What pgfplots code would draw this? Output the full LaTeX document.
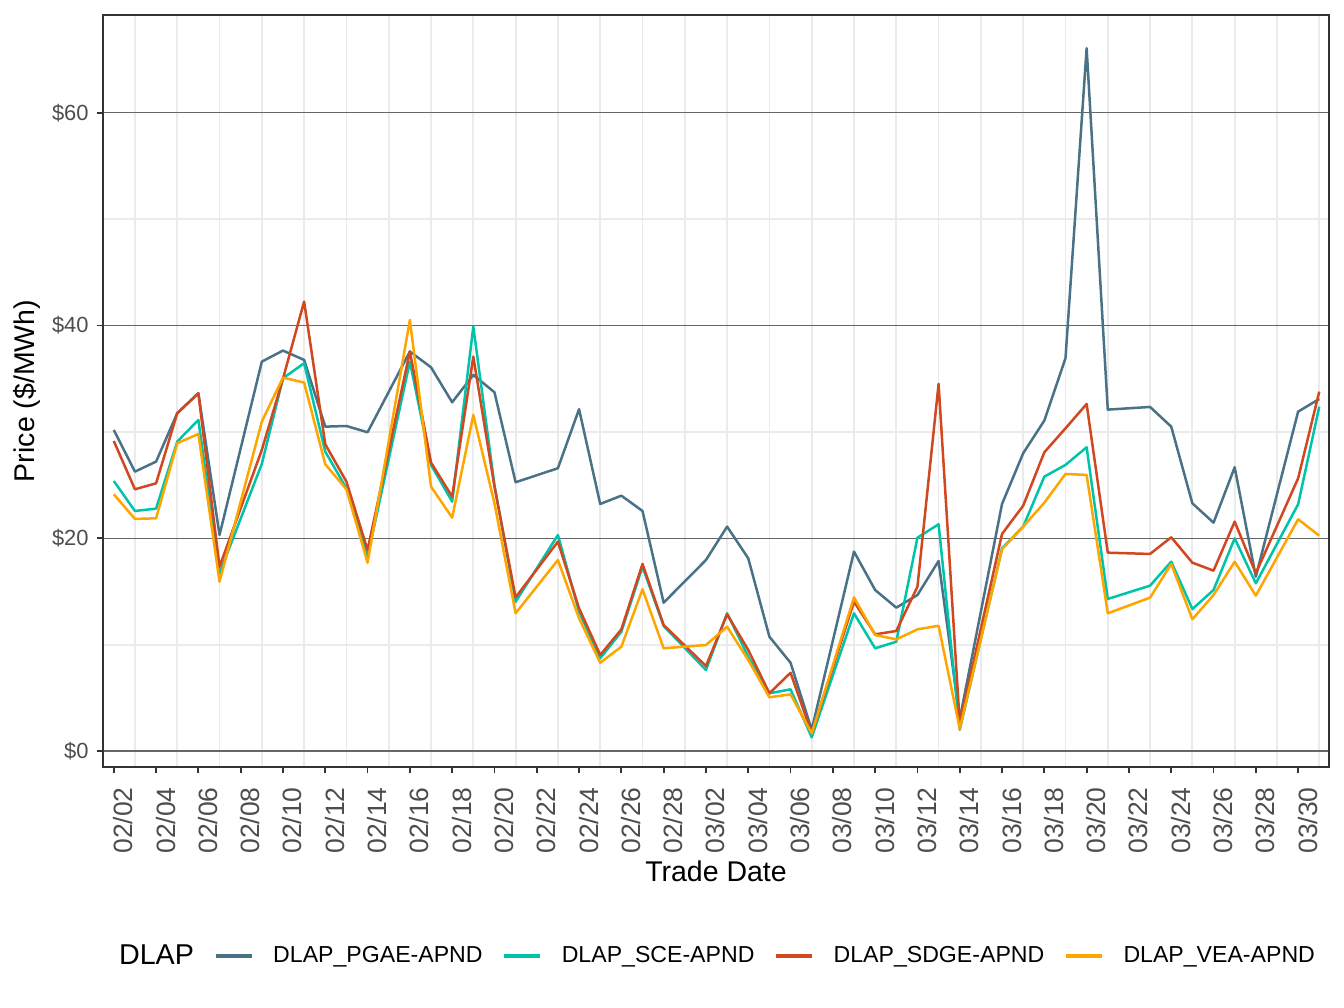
\documentclass[border=0pt]{standalone}
\usepackage{pgfplots}
\usepackage{pgfplotstable}
\pgfplotsset{compat=1.18}
\usepackage{fontspec}
\setmainfont{Liberation Sans}
\definecolor{pgae}{HTML}{4A7287}
\definecolor{sce}{HTML}{00C4AA}
\definecolor{sdge}{HTML}{D1471F}
\definecolor{vea}{HTML}{FFA500}
\definecolor{ticktxt}{HTML}{4D4D4D}
\definecolor{minorg}{HTML}{EBEBEB}
\pgfplotstableread{
day pgae sce sdge vea
0 30.19 25.39 29.15 24.14
1 26.27 22.57 24.61 21.82
2 27.21 22.79 25.17 21.88
3 31.76 29.09 31.76 28.94
4 33.64 31.13 33.64 29.81
5 20.31 16.71 17.33 15.92
7 36.61 27.00 28.31 30.97
8 37.65 35.05 35.00 35.11
9 36.77 36.46 42.26 34.64
10 30.50 28.15 28.84 26.96
11 30.56 24.70 25.33 24.61
12 29.97 18.27 18.90 17.71
14 37.56 36.61 37.56 40.53
15 36.08 26.90 27.12 24.86
16 32.79 23.45 23.92 21.94
17 35.36 39.91 37.08 31.60
18 33.73 25.00 24.86 23.30
19 25.27 14.04 14.45 12.95
21 26.59 20.31 19.69 17.96
22 32.14 13.10 13.42 12.48
23 23.23 8.72 9.03 8.30
24 24.01 11.22 11.44 9.81
25 22.57 17.33 17.59 15.21
26 13.95 11.76 11.85 9.66
28 17.96 7.62 7.99 9.97
29 21.10 12.95 12.86 11.69
30 18.12 8.87 9.50 8.56
31 10.75 5.43 5.43 5.05
32 8.30 5.80 7.36 5.33
33 2.00 1.29 1.66 1.66
35 18.75 12.95 14.04 14.45
36 15.14 9.66 10.97 10.91
37 13.48 10.28 11.29 10.50
38 14.67 20.06 15.45 11.44
39 17.87 21.32 34.52 11.78
40 3.00 2.00 2.60 2.10
42 23.23 19.06 20.41 18.97
43 28.00 21.10 23.07 21.10
44 31.07 25.80 28.09 23.35
45 36.93 26.90 30.34 26.05
46 66.08 28.56 32.63 25.96
47 32.10 14.30 18.65 12.95
49 32.35 15.55 18.53 14.42
50 30.50 17.80 20.10 17.59
51 23.29 13.35 17.71 12.39
52 21.47 15.14 16.96 14.67
53 26.68 20.00 21.57 17.80
54 16.39 15.77 16.71 14.61
56 31.91 23.20 25.64 21.79
57 33.10 32.38 33.79 20.25
}\datatable
\begin{document}
\begin{tikzpicture}
\begin{axis}[
  scale only axis,
  width=613bp, height=376bp,
  xmin=-0.51, xmax=57.46,
  ymin=-1.5, ymax=69.2,
  xtick={0,2,...,56},
  xticklabels={02/02,02/04,02/06,02/08,02/10,02/12,02/14,02/16,02/18,02/20,02/22,02/24,02/26,02/28,03/02,03/04,03/06,03/08,03/10,03/12,03/14,03/16,03/18,03/20,03/22,03/24,03/26,03/28,03/30},
  ytick={0,20,40,60},
  yticklabels={\$0,\$20,\$40,\$60},
  minor xtick={1,3,...,57},
  minor ytick={10,30,50},
  xmajorgrids=false, ymajorgrids=true,
  xminorgrids=true, yminorgrids=true,
  major grid style={color=black!60, line width=0.6bp},
  minor grid style={color=minorg, line width=0.9bp},
  minor tick length=0pt,
  major tick length=3bp,
  tick align=outside,
  xtick pos=bottom, ytick pos=left,
  tick style={color=black!80, line width=0.9bp},
  axis line style={color=black!80, line width=0.6bp},
  xticklabel style={rotate=90, anchor=north east, inner sep=0pt, xshift=-7bp, yshift=0.3bp,
    font=\fontsize{13.3}{13.3}\selectfont, text=ticktxt},
  yticklabel style={anchor=east, inner sep=0pt, xshift=-4bp,
    font=\fontsize{11}{11}\selectfont, text=ticktxt},
  xlabel={Trade Date},
  ylabel={Price (\$/MWh)},
  xlabel style={at={(axis description cs:0.5,0)}, anchor=center, yshift=-52bp,
    font=\fontsize{14.3}{14.3}\selectfont},
  ylabel style={at={(axis description cs:0,0.5)}, anchor=center, xshift=0bp, yshift=38bp,
    font=\fontsize{14.3}{14.3}\selectfont},
  legend columns=5,
  legend style={draw=none, fill=none, at={(0.5,0)}, anchor=center, yshift=-94.5bp, xshift=-4.5bp,
    nodes={inner sep=0pt, anchor=west}, font=\fontsize{11.6}{11.6}\selectfont,
    /tikz/every odd column/.append style={column sep=10bp},
    /tikz/every even column/.append style={column sep=10bp}},
  legend image code/.code={\draw[#1, line width=1.6bp] (0bp,0bp) -- (18bp,0bp);},
  every axis plot/.append style={line width=1.25bp, line join=round, mark=none},
]
\addlegendimage{empty legend}
\addlegendentry{\fontsize{14.4}{14.4}\selectfont DLAP}
\addplot[color=pgae] table[x=day, y=pgae] {\datatable};
\addlegendentry{DLAP\_PGAE-APND}
\addplot[color=sce] table[x=day, y=sce] {\datatable};
\addlegendentry{DLAP\_SCE-APND}
\addplot[color=sdge] table[x=day, y=sdge] {\datatable};
\addlegendentry{DLAP\_SDGE-APND}
\addplot[color=vea] table[x=day, y=vea] {\datatable};
\addlegendentry{DLAP\_VEA-APND}
\end{axis}
\pgfresetboundingbox
\path[use as bounding box] (-51.5bp,-120.5bp) rectangle (620.5bp,383.5bp);
\end{tikzpicture}
\end{document}
